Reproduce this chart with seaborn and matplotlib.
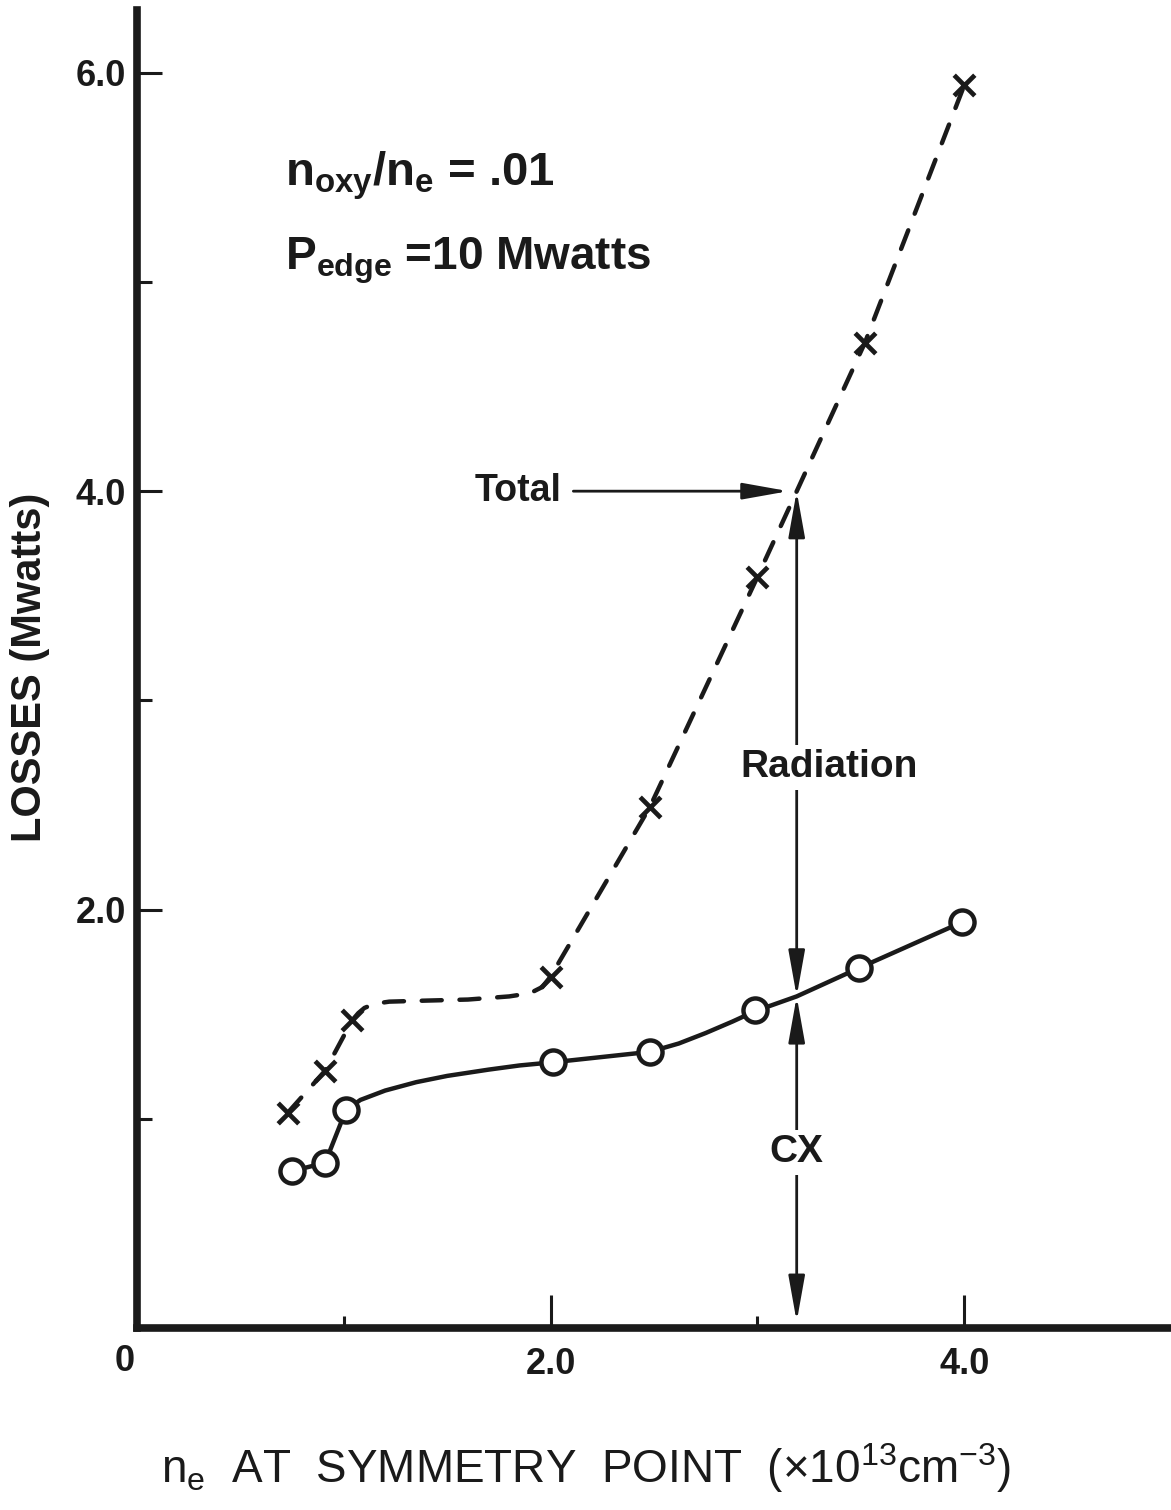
import matplotlib
matplotlib.use('Agg')
import matplotlib.pyplot as plt
import seaborn as sns

# Messpunkte (Marker)
total_x = [0.73, 0.91, 1.04, 2.0, 2.48, 3.0, 3.52, 4.0]
total_y = [1.03, 1.23, 1.47, 1.68, 2.49, 3.59, 4.71, 5.94]
cx_x = [0.75, 0.91, 1.01, 2.01, 2.48, 2.99, 3.49, 3.99]
cx_y = [0.75, 0.79, 1.04, 1.27, 1.32, 1.52, 1.72, 1.94]

# von Hand gezeichnete Kurven
total_curve_x = [0.73, 0.91, 1.04, 1.07, 1.10, 1.15, 1.22, 1.4, 1.6, 1.8, 1.9, 1.96, 2.0,
                 2.48, 3.0, 3.52, 4.0]
total_curve_y = [1.03, 1.23, 1.47, 1.505, 1.53, 1.55, 1.56, 1.565, 1.57, 1.585, 1.60, 1.63, 1.68,
                 2.49, 3.59, 4.71, 5.94]
cx_curve_x = [0.75, 0.91, 1.01, 1.08, 1.2, 1.35, 1.5, 1.7, 1.85, 2.01, 2.48, 2.62, 2.75, 2.88,
              2.99, 3.19, 3.49, 3.99]
cx_curve_y = [0.75, 0.79, 1.04, 1.09, 1.135, 1.175, 1.205, 1.235, 1.255, 1.27, 1.32, 1.36, 1.41,
              1.465, 1.515, 1.585, 1.72, 1.94]

# Pfeile: Radiation / CX
arrow_x = 3.19
arrow_top = 4.0
arrow_mid = 1.585
arrow_bottom = 0.03

y_major = [2, 4, 6]
y_major_labels = ['2.0', '4.0', '6.0']
y_minor = [1, 3, 5]
x_major = [2, 4]
x_major_labels = ['2.0', '4.0']
x_minor = [1, 3]

sns.set_theme(style='ticks')
plt.rcParams['font.family'] = ['Liberation Sans', 'DejaVu Sans']
plt.rcParams['mathtext.fontset'] = 'custom'
plt.rcParams['mathtext.rm'] = 'Liberation Sans'
plt.rcParams['mathtext.it'] = 'Liberation Sans'
plt.rcParams['mathtext.bf'] = 'Liberation Sans:bold'

W, H = 1171, 1510
fig = plt.figure(figsize=(W / 100, H / 100), dpi=100)
fig.patch.set_facecolor('white')
ax = fig.add_axes([137 / W, (H - 1328) / H, (W - 137) / W, (1328 - 10) / H])
ax.set_facecolor('white')

# Kurven
sns.lineplot(x=total_curve_x, y=total_curve_y, ax=ax, color='k', lw=3.2,
             sort=False, estimator=None)
ax.lines[-1].set_linestyle((0, (4.5, 4)))
ax.lines[-1].set_dash_capstyle('round')
sns.lineplot(x=cx_curve_x, y=cx_curve_y, ax=ax, color='k', lw=3.2,
             sort=False, estimator=None)

# Marker
sns.scatterplot(x=total_x, y=total_y, ax=ax, marker='x', s=220, color='k',
                linewidth=3.4, zorder=5)
sns.scatterplot(x=cx_x, y=cx_y, ax=ax, marker='o', s=300, color='white',
                edgecolor='k', linewidth=3.2, zorder=6)

ax.set_xlim(0, 5.0)
ax.set_ylim(0, 6.3)

sns.despine(ax=ax)
for side in ['left', 'bottom']:
    ax.spines[side].set_linewidth(5.5)
    ax.spines[side].set_color('k')

tick_font = dict(fontsize=26, fontweight='bold', color='k')
ax.set_xticks(x_major)
ax.set_xticklabels(x_major_labels, **tick_font)
ax.set_xticks(x_minor, minor=True)
ax.set_yticks(y_major)
ax.set_yticklabels(y_major_labels, **tick_font)
ax.set_yticks(y_minor, minor=True)

ax.tick_params(axis='both', which='both', direction='in', color='k', width=2.2)
ax.tick_params(axis='x', which='major', length=24, pad=14)
ax.tick_params(axis='x', which='minor', length=9)
ax.tick_params(axis='y', which='major', length=18, pad=8)
ax.tick_params(axis='y', which='minor', length=11)

ax.text(-0.06, -0.16, '0', ha='center', va='center', **tick_font)

# Pfeile
head = dict(color='k', lw=2.0, shrinkA=0, shrinkB=0, mutation_scale=20)
ax.annotate('', xy=(arrow_x, arrow_top), xytext=(arrow_x, arrow_mid),
            arrowprops=dict(arrowstyle='<|-|>,head_length=1.4,head_width=0.25', **head))
ax.annotate('', xy=(arrow_x, arrow_mid), xytext=(arrow_x, arrow_bottom),
            arrowprops=dict(arrowstyle='<|-|>,head_length=1.4,head_width=0.25', **head))
ax.annotate('', xy=(3.15, 4.0), xytext=(2.11, 4.0),
            arrowprops=dict(arrowstyle='-|>,head_length=1.4,head_width=0.25', **head))

box = dict(fc='white', ec='none', pad=3)
ax.text(2.055, 4.0, 'Total', ha='right', va='center', fontsize=27,
        fontweight='bold', color='k')
ax.text(2.92, 2.68, 'Radiation', ha='left', va='center', fontsize=28,
        fontweight='bold', color='k', bbox=box, zorder=7)
ax.text(arrow_x, 0.84, 'CX', ha='center', va='center', fontsize=28,
        fontweight='bold', color='k', bbox=box, zorder=7)

ax.text(0.714, 5.46, r'n$_{\mathbf{oxy}}$/n$_{\mathbf{e}}$ = .01', ha='left',
        va='baseline', fontsize=34, fontweight='bold', color='k')
ax.text(0.714, 5.06, r'P$_{\mathbf{edge}}$ =10 Mwatts', ha='left',
        va='baseline', fontsize=33, fontweight='bold', color='k')

# Achsenbeschriftungen
fig.text(30 / W, 1 - 667 / H, 'LOSSES (Mwatts)', rotation=90, ha='center',
         va='center', fontsize=30, fontweight='bold', color='k')
fig.text(586 / W, 1 - 1468 / H, r'n$_{\mathrm{e}}$  AT  SYMMETRY  POINT  (×10$^{13}$cm$^{-3}$)',
         ha='center', va='center', fontsize=33, color='k')

plt.savefig('out.png', dpi=100, facecolor='white')
plt.close()
